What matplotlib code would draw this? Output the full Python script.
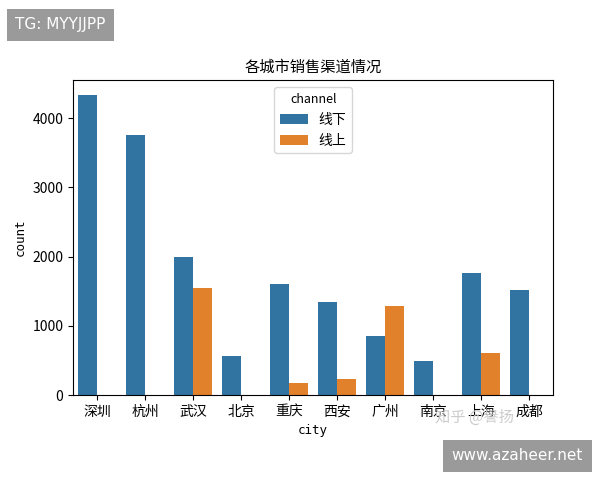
import matplotlib
matplotlib.use("Agg")
import matplotlib.pyplot as plt
import numpy as np

plt.rcParams['font.family'] = ['Noto Sans CJK SC', 'DejaVu Sans']
plt.rcParams['axes.unicode_minus'] = False

cities = ["深圳", "杭州", "武汉", "北京", "重庆", "西安", "广州", "南京", "上海", "成都"]
offline = [4330, 3760, 2000, 570, 1600, 1350, 850, 490, 1760, 1520]
online = [0, 0, 1540, 0, 170, 230, 1290, 0, 600, 0]

fig = plt.figure(figsize=(6, 4.8), dpi=100)
ax = fig.add_axes([0.122, 0.177, 0.8, 0.656])

x = np.arange(len(cities))
w = 0.4
ax.bar(x - w / 2, offline, w, color="#3274a1", label="线下")
ax.bar(x + w / 2, online, w, color="#e1812c", label="线上")
ax.set_xticks(x)
ax.set_xticklabels(cities, fontsize=10)
ax.set_xlim(-0.5, len(cities) - 0.5)
ax.set_yticks([0, 1000, 2000, 3000, 4000])
ax.set_xlabel("city", family="DejaVu Sans Mono", fontsize=9)
ax.set_ylabel("count", family="DejaVu Sans Mono", fontsize=9)
ax.set_title("各城市销售渠道情况", fontsize=11)
ax.legend(title="channel", loc="upper center", fontsize=10, title_fontsize=9)

fig.text(0.025, 0.948, "TG: MYYJJPP", color="white", fontsize=11, va="center",
         family="DejaVu Sans",
         bbox=dict(facecolor="#9a9a9a", edgecolor="none", pad=6))
fig.text(0.972, 0.05, "www.azaheer.net", color="white", fontsize=11, va="center", ha="right",
         family="DejaVu Sans",
         bbox=dict(facecolor="#9a9a9a", edgecolor="none", pad=6))
fig.text(0.79, 0.13, "知乎 @譽扬", color="#cccccc", fontsize=11, va="center", ha="center")

fig.savefig("out.png", dpi=100)
